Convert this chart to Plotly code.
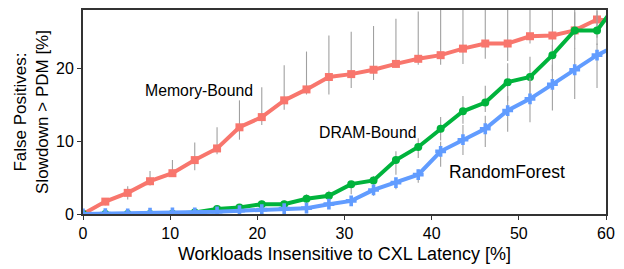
import plotly.graph_objects as go

x_pct = [0, 2.56, 5.13, 7.69, 10.26, 12.82, 15.38, 17.95, 20.51, 23.08, 25.64, 28.21,
         30.77, 33.33, 35.90, 38.46, 41.03, 43.59, 46.15, 48.72, 51.28, 53.85, 56.41, 58.97, 61.54]

mem = [0, 1.7, 2.9, 4.5, 5.6, 7.4, 9.0, 11.9, 13.3, 15.6, 17.1, 18.8, 19.2, 19.8, 20.6, 21.3,
       21.8, 22.7, 23.4, 23.4, 24.4, 24.5, 25.2, 26.7, 26.4]
mem_plus = [0, 0.5, 0.9, 1.4, 1.8, 2.4, 2.9, 3.7, 4.1, 4.8, 5.2, 5.7, 5.8, 6.0, 6.2, 6.5,
            6.8, 7.0, 7.2, 7.4, 7.5, 7.6, 7.8, 8.0, 0]
mem_minus = [0, 0.5, 0.9, 0.6, 0.5, 1.4, 0.8, 1.7, 1.1, 1.3, 0.7, 2.4, 1.9, 1.4, 0.5, 0.8,
             1.3, 2.1, 2.1, 2.4, 1.0, 2.5, 2.5, 2.5, 0]

dram = [0, 0, 0, 0, 0.05, 0.2, 0.7, 0.9, 1.35, 1.35, 2.1, 2.5, 4.1, 4.6, 7.4, 9.2,
        11.7, 14.1, 15.3, 18.1, 18.8, 21.8, 25.2, 25.2, 29.3]
dram_plus = [0, 0, 0, 0, 0.1, 0.3, 0.3, 0.4, 0.5, 0.5, 0.6, 0.7, 0.4, 0.6, 1.2, 1.2,
             1.6, 2.1, 2.3, 2.6, 2.8, 1.4, 2.5, 2.7, 0]
dram_minus = [0, 0, 0, 0, 0.05, 0.2, 0.3, 0.4, 0.5, 0.5, 0.6, 0.7, 1.4, 0.8, 2.0, 1.5,
              1.6, 1.7, 1.3, 2.6, 2.8, 2.2, 1.3, 2.0, 0]

rf = [0, 0.05, 0, 0.1, 0.15, 0.15, 0.3, 0.45, 0.6, 0.75, 0.8, 1.35, 1.8, 3.3, 4.3, 5.4,
      8.6, 10.2, 11.7, 14.2, 15.8, 17.8, 19.8, 21.8, 23.3]
rf_plus = [0, 0, 0, 0, 0, 0.1, 0.2, 0.2, 0.3, 0.3, 0.4, 0.5, 0.5, 0.75, 0.4, 0.7,
           1.3, 2.0, 1.8, 2.0, 2.9, 2.7, 3.0, 1.6, 0]
rf_minus = [0, 0, 0, 0, 0, 0.1, 0.2, 0.2, 0.3, 0.3, 0.4, 0.5, 0.5, 0.8, 0.9, 1.1,
            2.1, 2.1, 2.5, 2.9, 3.2, 3.6, 4.0, 4.5, 0]

labels = ["Memory-Bound", "DRAM-Bound", "RandomForest"]
label_x = [13.3, 32.6, 48.6]
label_y = [16.9, 11.2, 5.8]

FONT = "Liberation Sans, Arial, sans-serif"
LABEL_SIZES = {"Memory-Bound": 15.8, "DRAM-Bound": 15.8, "RandomForest": 17.5}

fig = go.Figure()

def add(y, p, m, color, symbol, width, size):
    fig.add_trace(go.Scatter(
        x=x_pct, y=y, mode="lines+markers",
        line=dict(color=color, width=width),
        marker=dict(color=color, symbol=symbol, size=size),
        error_y=dict(type="data", symmetric=False, array=p, arrayminus=m,
                     color="#a0a0a0", thickness=1.1, width=0),
        cliponaxis=True, showlegend=False, hoverinfo="skip"))

add(mem, mem_plus, mem_minus, "#F8766D", "square", 4, 8)
add(dram, dram_plus, dram_minus, "#00B33C", "circle", 4, 8)
add(rf, rf_plus, rf_minus, "#619CFF", "cross", 4, 9)

for t, xx, yy in zip(labels, label_x, label_y):
    fig.add_annotation(x=xx, y=yy, text=t, showarrow=False,
                       font=dict(size=LABEL_SIZES[t], color="black", family=FONT))

axis_common = dict(showline=True, linecolor="#333333", linewidth=2, mirror=True,
                   ticks="outside", ticklen=4, tickcolor="#333333", tickwidth=1,
                   showgrid=False, zeroline=False,
                   tickfont=dict(size=16, color="black", family=FONT))

fig.update_xaxes(range=[0, 60], tickvals=[0, 10, 20, 30, 40, 50, 60],
                 title=dict(text="Workloads Insensitive to CXL Latency [%]",
                            font=dict(size=18, color="black", family=FONT), standoff=6),
                 **axis_common)
fig.update_yaxes(range=[0, 28], tickvals=[0, 10, 20],
                 title=dict(text="False Positives:<br>Slowdown > PDM [%]",
                            font=dict(size=17, color="black", family=FONT), standoff=3),
                 **axis_common)

fig.update_layout(width=624, height=269, margin=dict(l=83, r=18, t=8, b=54),
                  plot_bgcolor="white", paper_bgcolor="white",
                  font=dict(family=FONT))

fig.write_html("out.html", config={"displayModeBar": False},
               post_script="document.body.style.margin='0';")
